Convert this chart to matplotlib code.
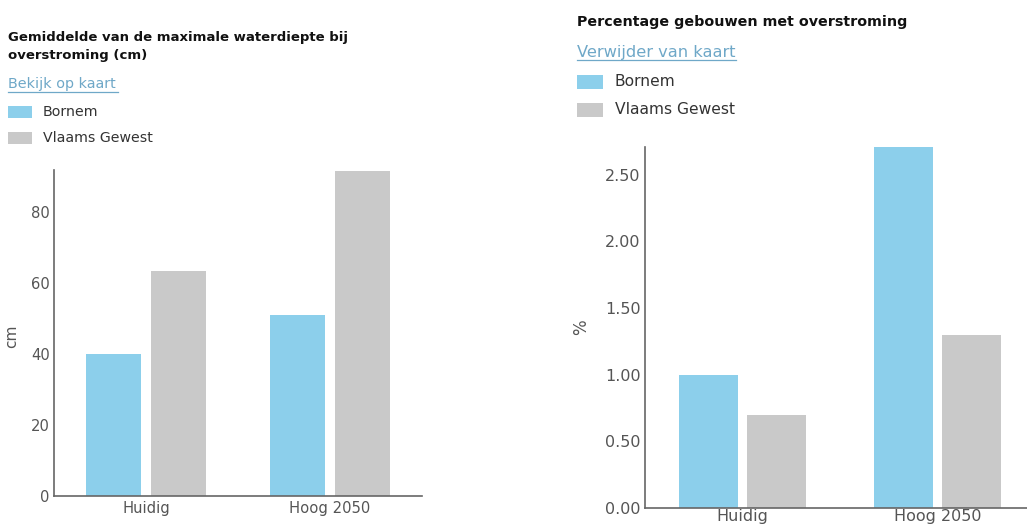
import matplotlib
matplotlib.use("Agg")
import matplotlib.pyplot as plt
from matplotlib.patches import Rectangle
from matplotlib.lines import Line2D
import numpy as np

W, H = 1027, 529

categories = ["Huidig", "Hoog 2050"]
series_names = ["Bornem", "Vlaams Gewest"]

depth_bornem = [40.0, 51.0]
depth_vlaams = [63.3, 91.4]
depth_ticks = [0, 20, 40, 60, 80]

pct_bornem = [1.0, 2.71]
pct_vlaams = [0.7, 1.3]
pct_ticks = [0.0, 0.5, 1.0, 1.5, 2.0, 2.5]

BLUE = "#8ccfeb"
GREY = "#c9c9c9"
TEXT = "#555555"
LINK = "#6fa8c8"
AXIS = "#666666"

plt.rcParams["font.family"] = ["DejaVu Sans"]

fig = plt.figure(figsize=(W / 100, H / 100), dpi=100)


def fx(px):
    return px / W


def fy(py):
    return 1 - py / H


def axes_px(left, top, right, bottom):
    return fig.add_axes([fx(left), fy(bottom), fx(right - left), (bottom - top) / H])


def header(x, title_lines, title_y, link, link_y, link_w, leg_y, patch_w, patch_h,
           text_x, fs_title, fs_link, fs_leg):
    for i, line in enumerate(title_lines):
        fig.text(fx(x), fy(title_y[i]), line, fontsize=fs_title, fontweight="bold",
                 color="#111111", va="center", ha="left")
    fig.text(fx(x), fy(link_y), link, fontsize=fs_link, color=LINK,
             va="center", ha="left")
    fig.add_artist(Line2D([fx(x), fx(x + link_w)], [fy(link_y + 8), fy(link_y + 8)],
                          color=LINK, lw=0.9, transform=fig.transFigure))
    for name, col, yc in zip(series_names, [BLUE, GREY], leg_y):
        fig.add_artist(Rectangle((fx(x), fy(yc + patch_h / 2)), fx(patch_w), patch_h / H,
                                 facecolor=col, edgecolor="none",
                                 transform=fig.transFigure))
        fig.text(fx(text_x), fy(yc), name, fontsize=fs_leg, color="#333333",
                 va="center", ha="left")


def bars(ax, a, b, ylim, ticks, fmt, ylabel, fs, xpad):
    x = np.arange(len(categories))
    ax.bar(x - 0.175, a, width=0.3, color=BLUE)
    ax.bar(x + 0.175, b, width=0.3, color=GREY)
    ax.set_xlim(-0.5, 1.5)
    ax.set_ylim(0, ylim)
    ax.set_xticks(x)
    ax.set_xticklabels(categories)
    ax.set_yticks(ticks)
    ax.set_yticklabels([fmt(t) for t in ticks])
    ax.tick_params(axis="both", length=0, labelsize=fs, colors=TEXT, pad=3)
    ax.tick_params(axis="x", pad=xpad)
    for s in ["top", "right"]:
        ax.spines[s].set_visible(False)
    for s in ["left", "bottom"]:
        ax.spines[s].set_color(AXIS)
        ax.spines[s].set_linewidth(1.2)
    ax.set_ylabel(ylabel, fontsize=fs + 0.5, color=TEXT)


# left panel: water depth
header(8, ["Gemiddelde van de maximale waterdiepte bij", "overstroming (cm)"],
       [38, 56], "Bekijk op kaart", 84, 110, [112, 138], 24, 12, 43, 9.5, 10.4, 10.2)
ax1 = axes_px(54, 170, 422, 495.7)
bars(ax1, depth_bornem, depth_vlaams, 91.7, depth_ticks, lambda t: f"{t:d}", "cm", 10.6, 4)
ax1.yaxis.set_label_coords(-0.095, 0.49)

# right panel: share of buildings
header(577, ["Percentage gebouwen met overstroming"], [22], "Verwijder van kaart",
       52, 159, [82, 110], 26, 14, 615, 10.3, 11.7, 11.2)
ax2 = axes_px(645, 146.7, 1035, 507.7)
bars(ax2, pct_bornem, pct_vlaams, 2.712, pct_ticks, lambda t: f"{t:.2f}", "%", 11.5, 1)
ax2.yaxis.set_label_coords(-0.14, 0.50)

fig.savefig("out.png", dpi=100)
